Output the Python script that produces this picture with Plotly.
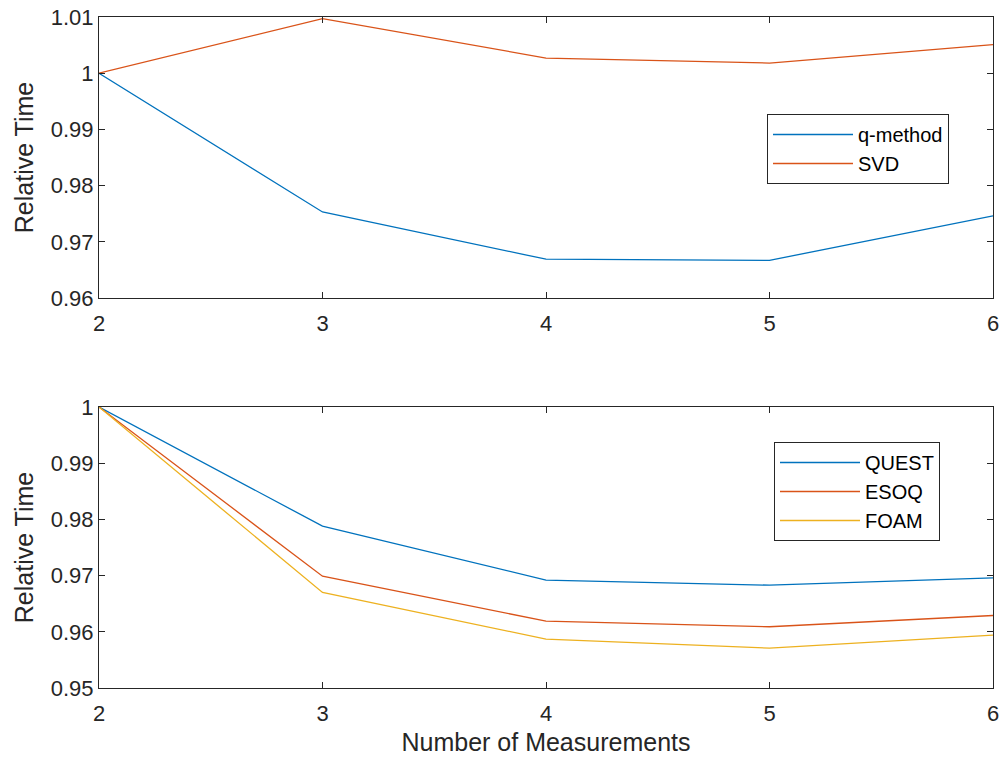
import plotly.graph_objects as go

# Number of measurements (x axis, shared by both panels)
measurements = [2, 3, 4, 5, 6]

# Upper panel: relative run time
q_method = [1.0, 0.9753, 0.9669, 0.9667, 0.9746]
svd = [1.0, 1.0097, 1.0027, 1.0018, 1.0051]

# Lower panel: relative run time
quest = [1.0, 0.9788, 0.9692, 0.9683, 0.9696]
esoq = [1.0, 0.9699, 0.9619, 0.9609, 0.9629]
foam = [1.0, 0.9670, 0.9587, 0.9571, 0.9594]

top_yticks = [0.96, 0.97, 0.98, 0.99, 1.0, 1.01]
top_yticklabels = ["0.96", "0.97", "0.98", "0.99", "1", "1.01"]
bottom_yticks = [0.95, 0.96, 0.97, 0.98, 0.99, 1.0]
bottom_yticklabels = ["0.95", "0.96", "0.97", "0.98", "0.99", "1"]

BLUE = "#0072BD"
ORANGE = "#D95319"
YELLOW = "#EDB120"
AX = "#262626"
FONT = "Liberation Sans, Arial, sans-serif"

W, H = 1003, 761


def px_x(p):
    return p / W


def px_y(p):
    return 1 - p / H


fig = go.Figure()

line_w = 1.3
fig.add_trace(go.Scatter(x=measurements, y=q_method, mode="lines", name="q-method",
                         line=dict(color=BLUE, width=line_w), xaxis="x", yaxis="y", legend="legend"))
fig.add_trace(go.Scatter(x=measurements, y=svd, mode="lines", name="SVD",
                         line=dict(color=ORANGE, width=line_w), xaxis="x", yaxis="y", legend="legend"))
fig.add_trace(go.Scatter(x=measurements, y=quest, mode="lines", name="QUEST",
                         line=dict(color=BLUE, width=line_w), xaxis="x2", yaxis="y2", legend="legend2"))
fig.add_trace(go.Scatter(x=measurements, y=esoq, mode="lines", name="ESOQ",
                         line=dict(color=ORANGE, width=line_w), xaxis="x2", yaxis="y2", legend="legend2"))
fig.add_trace(go.Scatter(x=measurements, y=foam, mode="lines", name="FOAM",
                         line=dict(color=YELLOW, width=line_w), xaxis="x2", yaxis="y2", legend="legend2"))

x_dom = [px_x(99), px_x(993)]
top_dom = [px_y(298), px_y(17)]
bot_dom = [px_y(688), px_y(407)]

axis_common = dict(
    showline=True, linecolor=AX, linewidth=1, mirror="ticks",
    ticks="inside", ticklen=6, tickwidth=1, tickcolor=AX,
    showgrid=False, zeroline=False,
    tickfont=dict(family=FONT, size=22, color=AX),
    automargin=False,
)

xaxis_common = dict(axis_common, range=[2, 6], tickvals=measurements,
                    ticktext=[str(v) for v in measurements], ticklabelstandoff=6)

title_font = dict(family=FONT, size=25, color=AX)

fig.update_layout(
    width=W, height=H,
    margin=dict(l=0, r=0, t=0, b=0),
    paper_bgcolor="white", plot_bgcolor="white",
    font=dict(family=FONT, color=AX),
    xaxis=dict(xaxis_common, domain=x_dom, anchor="y"),
    yaxis=dict(axis_common, domain=top_dom, anchor="x", range=[0.96, 1.01],
               tickvals=top_yticks, ticktext=top_yticklabels,
               title=dict(text="Relative Time", font=title_font, standoff=10)),
    xaxis2=dict(xaxis_common, domain=x_dom, anchor="y2",
                title=dict(text="Number of Measurements", font=title_font, standoff=8)),
    yaxis2=dict(axis_common, domain=bot_dom, anchor="x2", range=[0.95, 1.0],
                tickvals=bottom_yticks, ticktext=bottom_yticklabels,
                title=dict(text="Relative Time", font=title_font, standoff=10)),
    legend=dict(x=px_x(767), y=px_y(114), xanchor="left", yanchor="top",
                bgcolor="white", bordercolor=AX, borderwidth=1,
                font=dict(family=FONT, size=20, color="black"),
                itemwidth=80, tracegroupgap=0),
    legend2=dict(x=px_x(774), y=px_y(442), xanchor="left", yanchor="top",
                 bgcolor="white", bordercolor=AX, borderwidth=1,
                 font=dict(family=FONT, size=20, color="black"),
                 itemwidth=80, tracegroupgap=0),
    showlegend=True,
)

fig.write_html("out.html")
